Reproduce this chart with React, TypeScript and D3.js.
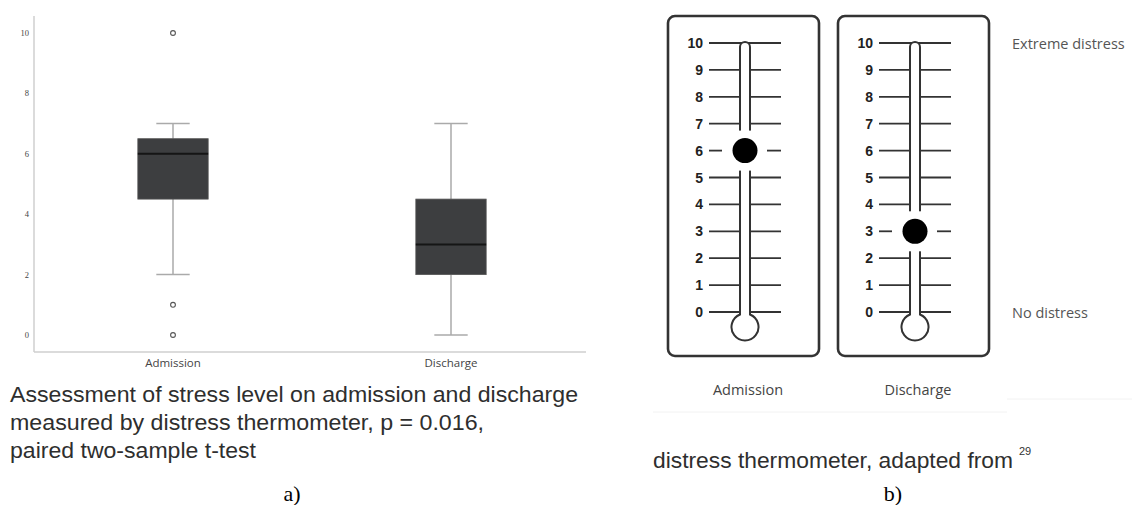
import React from "react";
import * as d3 from "d3";

// ---- Box plot data (panel a) ----
const boxCategories = ["Admission", "Discharge"];
const boxQ1 = [4.5, 2];
const boxMedian = [6, 3];
const boxQ3 = [6.5, 4.5];
const whiskerLow = [2, 0];
const whiskerHigh = [7, 7];
const outlierValues = [[10, 1, 0], []];
const yTicks = [0, 2, 4, 6, 8, 10];

// ---- Distress thermometer data (panel b) ----
const thermoLabels = ["Admission", "Discharge"];
const thermoValues = [6, 3];
const thermoTicks = [0, 1, 2, 3, 4, 5, 6, 7, 8, 9, 10];
const thermoTopLabel = "Extreme distress";
const thermoBottomLabel = "No distress";

const captionA = [
  "Assessment of stress level on admission and discharge",
  "measured by distress thermometer, p = 0.016,",
  "paired two-sample t-test",
];
const captionAWidths = [568, 474, 246];
const captionB = "distress thermometer, adapted from";
const captionBRef = "29";

export default function App() {
  // box plot scales
  const x = d3.scaleBand<string>().domain(boxCategories).range([34, 590]);
  const y = d3.scaleLinear().domain([0, 10]).range([335, 33]);
  const boxW = x.bandwidth() * 0.253;
  const capW = x.bandwidth() * 0.12;

  // thermometer scales
  const tx = d3.scalePoint<string>().domain(thermoLabels).range([745, 915]);
  const ty = d3.scaleLinear().domain([0, 10]).range([312, 43]);
  const half = 5;
  const bulbR = 13.5;
  const bulbCy = ty(0) + 15;
  const tubeTop = ty(10) - 1;
  const jy = bulbCy - Math.sqrt(bulbR * bulbR - half * half);

  const tubePath = (cx: number) => {
    const p = d3.path();
    p.moveTo(cx - half, jy);
    p.lineTo(cx - half, tubeTop + half);
    p.arc(cx, tubeTop + half, half, Math.PI, 0);
    p.lineTo(cx + half, jy);
    const a0 = Math.atan2(jy - bulbCy, half);
    const a1 = Math.atan2(jy - bulbCy, -half);
    p.arc(cx, bulbCy, bulbR, a0, a1 + 2 * Math.PI, false);
    p.closePath();
    return p.toString();
  };

  return (
    <svg
      width={1132}
      height={505}
      style={{ position: "absolute", left: 0, top: 0, background: "#fff" }}
    >
      {/* ---------- Panel a: box plot ---------- */}
      <g>
        <line x1={34} x2={34} y1={16} y2={352} stroke="#cfcfcf" strokeWidth={1.5} />
        <line x1={34} x2={586} y1={352} y2={352} stroke="#cfcfcf" strokeWidth={1.5} />
        {yTicks.map((t) => (
          <text
            key={t}
            x={29}
            y={y(t)}
            textAnchor="end"
            dominantBaseline="central"
            fontFamily="Liberation Serif"
            fontSize={8.5}
            fill="#444"
          >
            {t}
          </text>
        ))}
        {boxCategories.map((c, i) => {
          const cx = (x(c) as number) + x.bandwidth() / 2;
          return (
            <g key={c}>
              <line x1={cx} x2={cx} y1={y(whiskerHigh[i])} y2={y(boxQ3[i])} stroke="#aaa" strokeWidth={1.5} />
              <line x1={cx} x2={cx} y1={y(boxQ1[i])} y2={y(whiskerLow[i])} stroke="#aaa" strokeWidth={1.5} />
              <line x1={cx - capW / 2} x2={cx + capW / 2} y1={y(whiskerHigh[i])} y2={y(whiskerHigh[i])} stroke="#aaa" strokeWidth={1.5} />
              <line x1={cx - capW / 2} x2={cx + capW / 2} y1={y(whiskerLow[i])} y2={y(whiskerLow[i])} stroke="#aaa" strokeWidth={1.5} />
              <rect
                x={cx - boxW / 2}
                y={y(boxQ3[i])}
                width={boxW}
                height={y(boxQ1[i]) - y(boxQ3[i])}
                fill="#3d3e40"
                stroke="#555"
                strokeWidth={0.8}
              />
              <line
                x1={cx - boxW / 2}
                x2={cx + boxW / 2}
                y1={y(boxMedian[i])}
                y2={y(boxMedian[i])}
                stroke="#151515"
                strokeWidth={2}
              />
              {outlierValues[i].map((v, j) => (
                <circle key={j} cx={cx} cy={y(v)} r={2.4} fill="#fff" stroke="#555" strokeWidth={1.1} />
              ))}
              <text
                x={cx}
                y={362}
                textAnchor="middle"
                dominantBaseline="central"
                fontFamily="Open Sans"
                fontSize={11.5}
                fill="#444"
              >
                {c}
              </text>
            </g>
          );
        })}
        {captionA.map((line, i) => (
          <text
            key={i}
            x={10}
            y={394 + i * 28}
            dominantBaseline="central"
            fontFamily="Liberation Sans"
            fontSize={22.5}
            fill="#2e2e2e"
            textLength={captionAWidths[i]}
            lengthAdjust="spacingAndGlyphs"
          >
            {line}
          </text>
        ))}
        <text
          x={292}
          y={493}
          textAnchor="middle"
          dominantBaseline="central"
          fontFamily="Liberation Serif"
          fontSize={22}
          fill="#000"
        >
          a)
        </text>
      </g>

      {/* ---------- Panel b: distress thermometers ---------- */}
      <g>
        {thermoLabels.map((lab, i) => {
          const cx = tx(lab) as number;
          const v = thermoValues[i];
          return (
            <g key={lab}>
              <rect
                x={cx - 77}
                y={16}
                width={151}
                height={340}
                rx={7}
                fill="#fff"
                stroke="#333"
                strokeWidth={2.6}
              />
              {thermoTicks.map((t) =>
                t === v ? null : (
                  <line
                    key={t}
                    x1={cx - 36}
                    x2={cx + 36}
                    y1={ty(t)}
                    y2={ty(t)}
                    stroke="#333"
                    strokeWidth={1.8}
                  />
                )
              )}
              {thermoTicks.map((t) => (
                <text
                  key={"l" + t}
                  x={cx - 42}
                  y={ty(t)}
                  textAnchor="end"
                  dominantBaseline="central"
                  fontFamily="Liberation Sans"
                  fontWeight="bold"
                  fontSize={14}
                  fill="#222"
                >
                  {t}
                </text>
              ))}
              <path d={tubePath(cx)} fill="#fff" stroke="#333" strokeWidth={2} />
              <rect x={cx - 8} y={ty(v) - 20} width={16} height={40} fill="#fff" />
              <line x1={cx - 36} x2={cx - 23} y1={ty(v)} y2={ty(v)} stroke="#333" strokeWidth={1.8} />
              <line x1={cx + 22} x2={cx + 36} y1={ty(v)} y2={ty(v)} stroke="#333" strokeWidth={1.8} />
              <circle cx={cx} cy={ty(v)} r={12.5} fill="#000" />
              <text
                x={cx + 3}
                y={389}
                textAnchor="middle"
                dominantBaseline="central"
                fontFamily="Open Sans"
                fontSize={14.5}
                fill="#444"
              >
                {lab}
              </text>
            </g>
          );
        })}
        <line x1={653} x2={1007} y1={412} y2={412} stroke="#f2f2f2" strokeWidth={1} />
        <line x1={1007} x2={1132} y1={399} y2={399} stroke="#f2f2f2" strokeWidth={1} />
        <text
          x={1012}
          y={ty(10)}
          dominantBaseline="central"
          fontFamily="Open Sans"
          fontSize={14.5}
          fill="#555"
        >
          {thermoTopLabel}
        </text>
        <text
          x={1012}
          y={ty(0)}
          dominantBaseline="central"
          fontFamily="Open Sans"
          fontSize={14.5}
          fill="#555"
        >
          {thermoBottomLabel}
        </text>
        <text
          x={653}
          y={460}
          dominantBaseline="central"
          fontFamily="Liberation Sans"
          fontSize={22.5}
          fill="#2e2e2e"
          textLength={360}
          lengthAdjust="spacingAndGlyphs"
        >
          {captionB}
        </text>
        <text
          x={1019}
          y={451}
          dominantBaseline="central"
          fontFamily="Liberation Sans"
          fontSize={11}
          fill="#333"
        >
          {captionBRef}
        </text>
        <text
          x={893}
          y={493}
          textAnchor="middle"
          dominantBaseline="central"
          fontFamily="Liberation Serif"
          fontSize={22}
          fill="#000"
        >
          b)
        </text>
      </g>
    </svg>
  );
}
